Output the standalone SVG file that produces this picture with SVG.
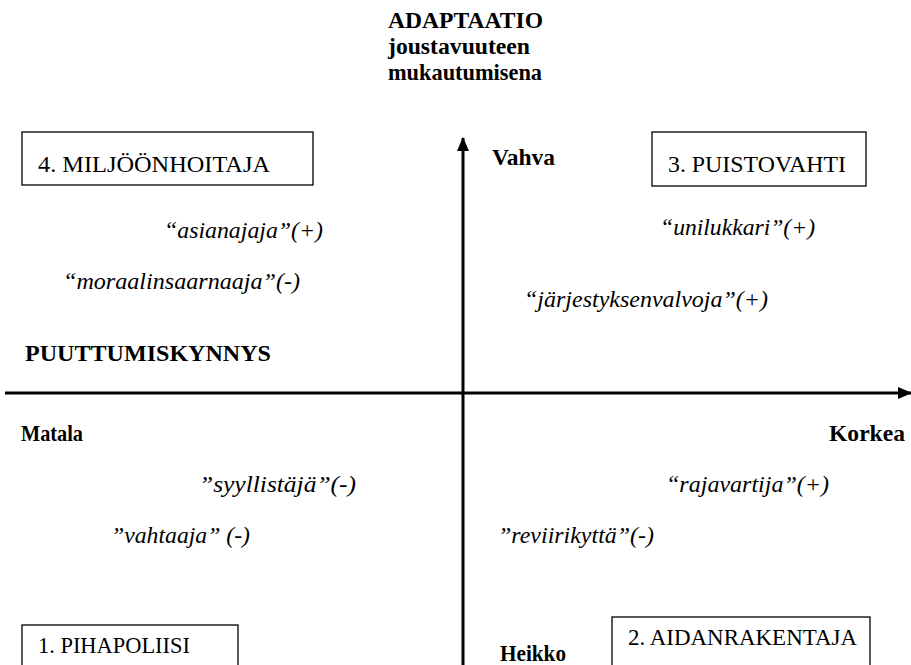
<svg xmlns="http://www.w3.org/2000/svg" width="911" height="665" viewBox="0 0 911 665" font-family="'Liberation Serif', 'DejaVu Serif', serif">
<style>
text{font-family:'Liberation Serif','DejaVu Serif',serif;fill:#000}
.b{font-weight:bold;font-size:24px}
.r{font-size:24px}
.i{font-style:italic;font-size:24px}
.box{fill:#fff;stroke:#000;stroke-width:1.3}
.ax{stroke:#000;stroke-width:3;fill:none}
</style>
<defs>
<marker id="ah" markerUnits="userSpaceOnUse" markerWidth="14" markerHeight="14" refX="13" refY="7" orient="auto">
<path d="M0,1 L14,7 L0,13 Z" fill="#000"/>
</marker>
</defs>
<rect width="911" height="665" fill="#fff"/>
<g id="connectors">
<line class="ax" x1="463" y1="665" x2="463" y2="138" marker-end="url(#ah)"/>
<line class="ax" x1="5" y1="393" x2="911" y2="393" marker-end="url(#ah)"/>
</g>
<g id="title">
<text class="b" x="388" y="28" textLength="155" lengthAdjust="spacingAndGlyphs">ADAPTAATIO</text>
<text class="b" x="388" y="54" textLength="142" lengthAdjust="spacingAndGlyphs">joustavuuteen</text>
<text class="b" x="388" y="80" textLength="154" lengthAdjust="spacingAndGlyphs">mukautumisena</text>
</g>
<g id="n4">
<rect class="box" x="22" y="132" width="291" height="53"/>
<text class="r" x="38" y="172" textLength="232" lengthAdjust="spacingAndGlyphs">4. MILJÖÖNHOITAJA</text>
</g>
<g id="n3">
<rect class="box" x="652" y="132" width="214" height="54"/>
<text class="r" x="668" y="172" textLength="178" lengthAdjust="spacingAndGlyphs">3. PUISTOVAHTI</text>
</g>
<g id="n1">
<rect class="box" x="22" y="625" width="216" height="45"/>
<text class="r" x="38" y="653" textLength="152" lengthAdjust="spacingAndGlyphs">1. PIHAPOLIISI</text>
</g>
<g id="n2">
<rect class="box" x="612" y="617" width="258" height="53"/>
<text class="r" x="628" y="645" textLength="229" lengthAdjust="spacingAndGlyphs">2. AIDANRAKENTAJA</text>
</g>
<g id="labels">
<text class="b" x="492" y="165" textLength="63" lengthAdjust="spacingAndGlyphs">Vahva</text>
<text class="b" x="500" y="661" textLength="66" lengthAdjust="spacingAndGlyphs">Heikko</text>
<text class="b" x="25" y="361" textLength="246" lengthAdjust="spacingAndGlyphs">PUUTTUMISKYNNYS</text>
<text class="b" x="21" y="441" textLength="62" lengthAdjust="spacingAndGlyphs">Matala</text>
<text class="b" x="829" y="441" textLength="76" lengthAdjust="spacingAndGlyphs">Korkea</text>
<text class="i" x="164" y="238" textLength="159" lengthAdjust="spacingAndGlyphs">“asianajaja”(+)</text>
<text class="i" x="63" y="289" textLength="237" lengthAdjust="spacingAndGlyphs">“moraalinsaarnaaja”(-)</text>
<text class="i" x="660" y="235" textLength="155" lengthAdjust="spacingAndGlyphs">“unilukkari”(+)</text>
<text class="i" x="524" y="307" textLength="244" lengthAdjust="spacingAndGlyphs">“järjestyksenvalvoja”(+)</text>
<text class="i" x="199" y="492" textLength="157" lengthAdjust="spacingAndGlyphs">”syyllistäjä”(-)</text>
<text class="i" x="111" y="543" textLength="139" lengthAdjust="spacingAndGlyphs">”vahtaaja” (-)</text>
<text class="i" x="666" y="492" textLength="163" lengthAdjust="spacingAndGlyphs">“rajavartija”(+)</text>
<text class="i" x="498" y="543" textLength="156" lengthAdjust="spacingAndGlyphs">”reviirikyttä”(-)</text>
</g>
</svg>
